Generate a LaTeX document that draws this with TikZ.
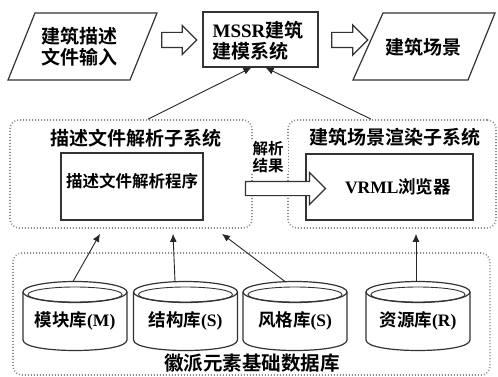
\documentclass[tikz,border=0pt]{standalone}
\usepackage{fontspec}
\setmainfont{Liberation Serif}
\newfontfamily\cjk{Noto Sans CJK SC}[BoldFont={Noto Sans CJK SC Bold}]
\usetikzlibrary{shapes.arrows,arrows.meta}
\newcommand\zh[1]{{\cjk\bfseries #1}}
\newcommand\fsz[1]{\fontsize{#1}{1.12\dimexpr#1\relax}\selectfont}
\tikzset{
  base/.style={draw=black!80, line width=1.2pt},
  plain/.style={base, fill=white, inner sep=0pt},
  dotbox/.style={draw=black!45, line width=1.7pt, dash pattern=on 0.9pt off 2.1pt, rounded corners=9pt, inner sep=0pt},
  hollow/.style={single arrow, draw=black!80, line width=1.2pt, fill=white, inner xsep=0pt, single arrow tip angle=90},
  conn/.style={draw=black!85, line width=0.9pt, -{Latex[length=8pt,width=7pt]}},
  txt/.style={font=\bfseries\fsz{19pt}, align=center, inner sep=0pt},
  midtxt/.style={font=\bfseries\fsz{16.5pt}, align=center, inner sep=0pt},
  cyltxt/.style={font=\bfseries\fsz{17.5pt}, inner sep=0pt},
  cylline/.style={draw=black!80, line width=1.2pt},
  rimline/.style={draw=black!80, line width=0.9pt},
}
\newcommand\dbcyl[3]{%
  \fill[white] (#2-52,292) -- (#2-52,340) .. controls (#2-52,354) and (#2+52,354) .. (#2+52,340) -- (#2+52,292) -- cycle;
  \draw[cylline] (#2-52,292) -- (#2-52,340) .. controls (#2-52,354) and (#2+52,354) .. (#2+52,340) -- (#2+52,292);
  \draw[cylline] (#2,292) ellipse [x radius=52, y radius=10.5];
  \draw[rimline] (#2,294.5) ellipse [x radius=47, y radius=7.5];
  \coordinate (#1-top) at (#2,281.5);
  \node[cyltxt] (#1) at (#2,321) {#3};
}
\begin{document}
\begin{tikzpicture}[x=1pt, y=-1pt]
\useasboundingbox[fill=white] (0,0) rectangle (498,377);

% top row
\draw[base] (35,13) -- (157,13) -- (130,80) -- (8,80) -- cycle;
\node[txt] (in) at (79,47) {\zh{建筑描述}\\\zh{文件输入}};
\node[plain, minimum width=115pt, minimum height=55pt] (mssr) at (260.5,39.5) {};
\node[txt, align=left] (mssrt) at (258,41) {MSSR\zh{建筑}\\\zh{建模系统}};
\draw[base] (383,13) -- (495,13) -- (468,80) -- (353,80) -- cycle;
\node[txt] (out) at (423.5,47) {\zh{建筑场景}};
\node[hollow, minimum height=35pt, inner ysep=7pt, single arrow head extend=7pt] (ha1) at (175.5,40) {};
\node[hollow, minimum height=36pt, inner ysep=7pt, single arrow head extend=7.5pt] (ha2) at (346,40) {};

% subsystems
\node[dotbox, minimum width=242pt, minimum height=108pt] (lsys) at (131,174) {};
\node[dotbox, minimum width=208pt, minimum height=108pt] (rsys) at (392,174) {};
\node[txt] (lsyst) at (135.5,138) {\zh{描述文件解析子系统}};
\node[txt] (rsyst) at (394.5,137) {\zh{建筑场景渲染子系统}};
\node[plain, minimum width=142pt, minimum height=67pt] (parser) at (132,186.5) {};
\node[midtxt] (parsert) at (132,181) {\zh{描述文件解析程序}};
\node[plain, minimum width=167pt, minimum height=66pt] (vrml) at (389.5,187) {};
\node[txt, font=\bfseries\fsz{17.5pt}] (vrmlt) at (398,187) {VRML\zh{浏览器}};
\node[font=\bfseries\fsz{15.5pt}, fill=white, inner xsep=4pt, inner ysep=2pt, align=center] (res) at (268,157) {\zh{解析}\\[-1pt]\zh{结果}};
\node[hollow, minimum height=80pt, inner ysep=6.5pt, single arrow head extend=9pt] (ha3) at (282,188.5) {};

% database
\node[dotbox, minimum width=477pt, minimum height=122pt] (db) at (251.5,314) {};
\dbcyl{cm}{75}{\zh{模块库}(M)}
\dbcyl{cs}{185.5}{\zh{结构库}(S)}
\dbcyl{cf}{295}{\zh{风格库}(S)}
\dbcyl{cr}{418}{\zh{资源库}(R)}
\node[txt, font=\bfseries\fsz{19.5pt}] (dbt) at (252,363) {\zh{徽派元素基础数据库}};

% connectors
\draw[conn] ([xshift=17pt]lsys.north) -- ([xshift=49pt]mssr.south west);
\draw[conn] ([xshift=-21pt]rsys.north) -- ([xshift=-53pt]mssr.south east);
\draw[conn] ([xshift=-2pt]cm-top) -- ([xshift=-31pt,yshift=-5pt]lsys.south);
\draw[conn] ([xshift=-10.5pt]cs-top) -- ([xshift=42pt,yshift=-5pt]lsys.south);
\draw[conn] ([xshift=-10pt]cf-top) -- ([xshift=91pt,yshift=-5pt]lsys.south);
\draw[conn] ([xshift=-2pt]cr-top) -- ([xshift=24pt,yshift=-5pt]rsys.south);
\end{tikzpicture}
\end{document}
